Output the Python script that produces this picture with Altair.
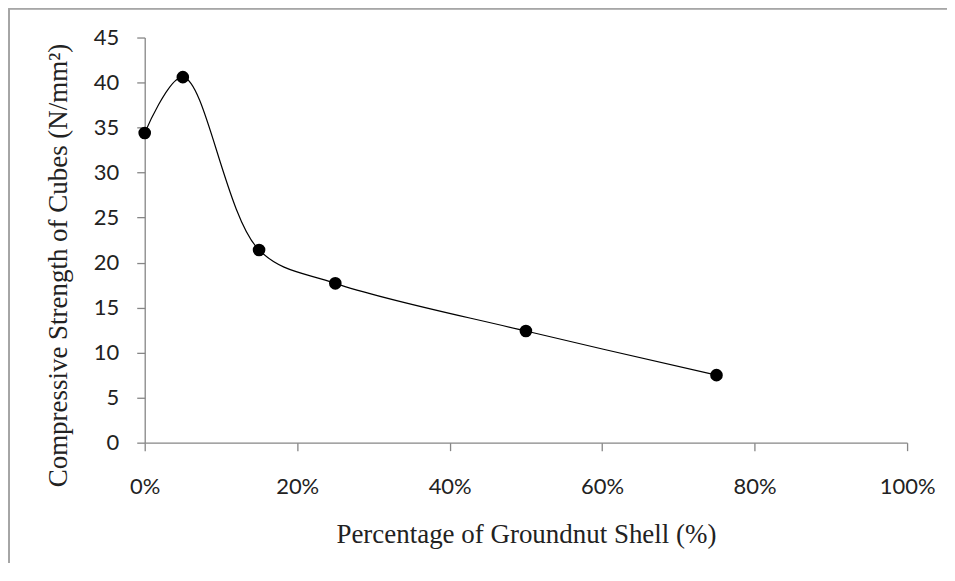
import altair as alt
import pandas as pd

shell_pct = [0, 5, 15, 25, 50, 75]
strength = [34.4, 40.6, 21.4, 17.7, 12.4, 7.5]

df = pd.DataFrame({"pct": shell_pct, "strength": strength})

x_enc = alt.X("pct:Q",
              scale=alt.Scale(domain=[0, 100], nice=False, zero=False),
              axis=alt.Axis(values=[0, 20, 40, 60, 80, 100],
                            labelExpr="datum.value + '%'", labelFlush=False,
                            title="Percentage of Groundnut Shell (%)",
                            grid=False, labelPadding=26, titlePadding=24))
y_enc = alt.Y("strength:Q",
              scale=alt.Scale(domain=[0, 45], nice=False),
              axis=alt.Axis(values=[0, 5, 10, 15, 20, 25, 30, 35, 40, 45],
                            title="Compressive Strength of Cubes (N/mm²)",
                            grid=False, labelPadding=18, titlePadding=21, titleY=228))

base = alt.Chart(df)
line = base.mark_line(interpolate="catmull-rom", color="black", strokeWidth=1.2).encode(x=x_enc, y=y_enc)
pts = base.mark_circle(color="black", size=160, opacity=1).encode(x="pct:Q", y="strength:Q")

frame_left = alt.Chart(df).mark_rule(color="#a6a6a6", strokeWidth=1.5).encode(
    x=alt.value(-136), y=alt.value(-29), y2=alt.value(600))
frame_top = alt.Chart(df).mark_rule(color="#a6a6a6", strokeWidth=1.5).encode(
    x=alt.value(-136), x2=alt.value(820), y=alt.value(-29))

chart = alt.layer(frame_left, frame_top, line, pts).properties(
    width=764, height=406,
    autosize=alt.AutoSizeParams(type="none"),
    padding={"left": 137, "top": 29, "right": 40, "bottom": 120},
).configure_view(stroke=None).configure_axis(
    domainColor="#868686", tickColor="#868686", tickSize=8, domainWidth=1.3, tickWidth=1.3,
    labelFont="Lato", labelFontSize=22, labelColor="#222222",
    titleFont="Liberation Serif", titleFontSize=27, titleFontWeight="normal", titleColor="#222222",
)

chart.save("out.html", embed_options={"renderer": "svg", "actions": False})
